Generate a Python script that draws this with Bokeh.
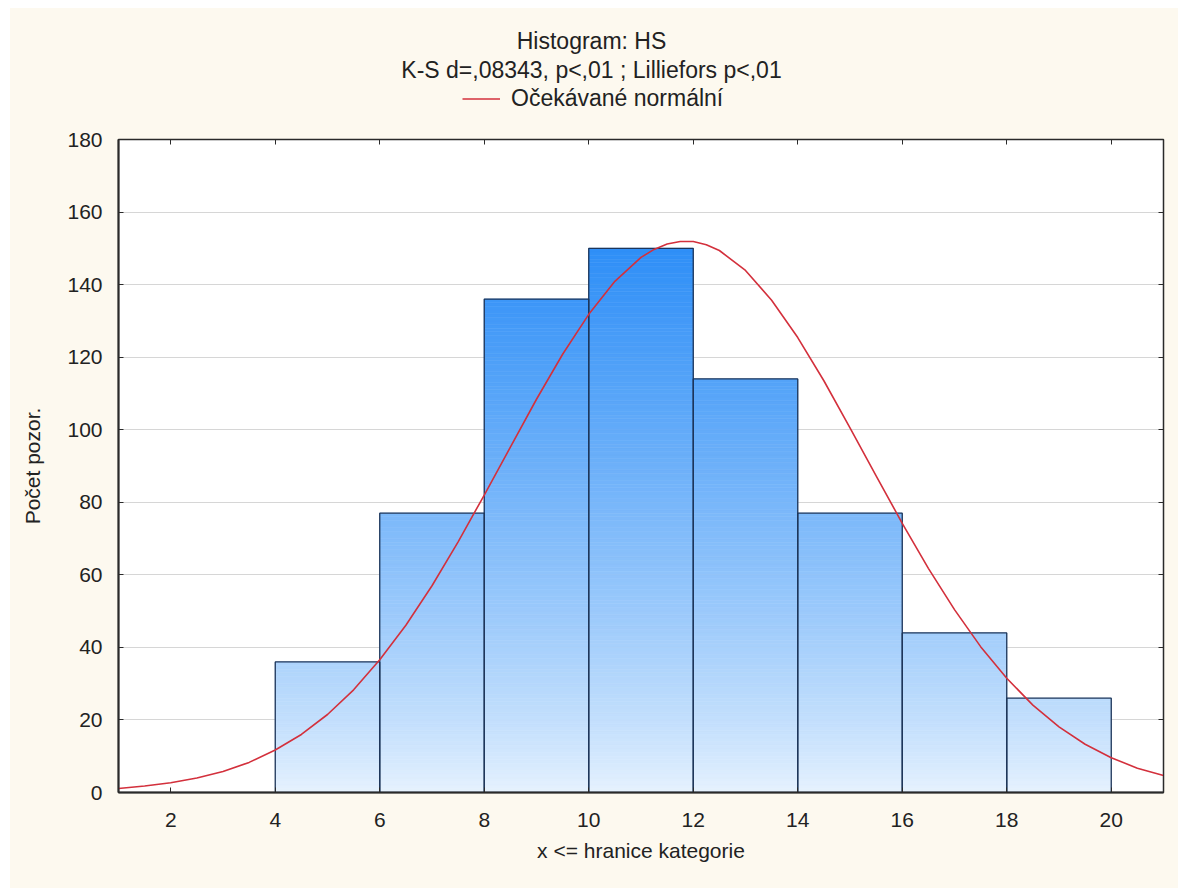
from bokeh.plotting import figure
from bokeh.models import Range1d, LinearAxis, Legend, LegendItem, FixedTicker, Spacer
from bokeh.core.properties import value
from bokeh.layouts import column, row
from bokeh.embed import file_html
from bokeh.resources import INLINE

# ---- data ----
bin_left = [4, 6, 8, 10, 12, 14, 16, 18]
bin_right = [6, 8, 10, 12, 14, 16, 18, 20]
counts = [36, 77, 136, 150, 114, 77, 44, 26]

curve_x = [1, 1.5, 2, 2.5, 3, 3.5, 4, 4.5, 5, 5.5, 6, 6.5, 7, 7.5, 8, 8.5, 9, 9.5,
           10, 10.5, 11, 11.25, 11.5, 11.75, 12, 12.25, 12.5, 13, 13.5, 14, 14.5, 15,
           15.5, 16, 16.5, 17, 17.5, 18, 18.5, 19, 19.5, 20, 20.5, 21]
curve_y = [1.1, 1.8, 2.7, 4.0, 5.8, 8.3, 11.7, 16.0, 21.5, 28.3, 36.6, 46.1, 57.0,
           69.1, 82.0, 95.2, 108.4, 120.8, 131.8, 140.9, 147.5, 149.7, 151.2, 151.9,
           151.9, 151.0, 149.4, 143.9, 135.7, 125.4, 113.5, 100.5, 87.3, 74.2, 61.8,
           50.4, 40.2, 31.5, 24.1, 18.1, 13.3, 9.6, 6.7, 4.7]

x_ticks = [2, 4, 6, 8, 10, 12, 14, 16, 18, 20]
y_ticks = [0, 20, 40, 60, 80, 100, 120, 140, 160, 180]

title_1 = "Histogram: HS"
title_2 = "K-S d=,08343, p<,01 ; Lilliefors p<,01"
legend_label = "Očekávané normální"
x_label = "x <= hranice kategorie"
y_label = "Počet pozor."

FONT = "Liberation Sans"
CREAM = "#fdf9ef"
DARK = "#2a2a2a"
RED = "#d3303c"
TXT = "#222222"

W = 1168
HEAD_H = 115
B_LEFT, B_RIGHT = 108, 15
FRAME_W = W - B_LEFT - B_RIGHT   # header frame is aligned with the main frame

# ---------------- header (titles + legend), pixel coordinates ----------------
head = figure(width=W, height=HEAD_H, output_backend="svg", toolbar_location=None,
              title=None, x_range=Range1d(0, FRAME_W), y_range=Range1d(0, HEAD_H),
              min_border_left=B_LEFT, min_border_right=B_RIGHT,
              min_border_top=0, min_border_bottom=0)
head.axis.visible = False
head.grid.visible = False
head.outline_line_color = None
head.background_fill_color = CREAM
head.border_fill_color = CREAM
head.text(x=[473, 473], y=[83, 54], text=[title_1, title_2], text_align="center",
          text_baseline="middle", text_font=value(FONT), text_font_size=value("23px"),
          text_color=TXT)
# legend key renderer (its points lie outside the visible range)
key = head.line(x=[-500, -400], y=[-500, -500], line_color=RED, line_width=1.6)
head.add_layout(Legend(items=[LegendItem(label=legend_label, renderers=[key])],
                       location=(344, 11), orientation="horizontal",
                       background_fill_alpha=0, border_line_color=None, padding=0,
                       margin=0, glyph_width=38, glyph_height=27, label_height=27,
                       label_standoff=11, label_text_font=FONT,
                       label_text_font_size="23px", label_text_color=TXT))

# ---------------- main histogram ----------------
p = figure(width=W, height=880 - HEAD_H, output_backend="svg", toolbar_location=None,
           title=None, x_range=Range1d(1, 21), y_range=Range1d(0, 180),
           min_border_left=B_LEFT, min_border_right=B_RIGHT, min_border_top=16,
           min_border_bottom=96)
p.border_fill_color = CREAM
p.background_fill_color = "white"
p.outline_line_color = DARK
p.outline_line_width = 1.5

# gradient fill of bars (colour depends on the value level)
c0 = (232, 243, 254)
c1 = (47, 143, 247)
ymax = max(counts)
sl_l, sl_r, sl_b, sl_t, sl_c = [], [], [], [], []
for l, r, h in zip(bin_left, bin_right, counts):
    for k in range(h):
        t = ((k + 0.5) / ymax) ** 0.8
        col = tuple(int(round(a + (b - a) * t)) for a, b in zip(c0, c1))
        sl_l.append(l); sl_r.append(r); sl_b.append(k); sl_t.append(k + 1)
        sl_c.append("#%02x%02x%02x" % col)
p.quad(left=sl_l, right=sl_r, bottom=sl_b, top=sl_t, fill_color=sl_c,
       line_color=sl_c, line_width=0.6)
p.quad(left=bin_left, right=bin_right, bottom=0, top=counts, fill_color=None,
       line_color="#1d3559", line_width=1.3)

p.line(curve_x, curve_y, line_color=RED, line_width=1.6)

for ax in (p.xaxis[0], p.yaxis[0]):
    ax.major_tick_in = 5
    ax.major_tick_out = 0
    ax.minor_tick_line_color = None
    ax.axis_line_color = DARK
    ax.axis_line_width = 2
    ax.major_tick_line_color = DARK
    ax.major_label_text_font = FONT
    ax.major_label_text_font_size = "21px"
    ax.major_label_text_color = TXT
    ax.axis_label_text_font = FONT
    ax.axis_label_text_font_size = "21px"
    ax.axis_label_text_font_style = "normal"
    ax.axis_label_text_color = TXT

p.xaxis[0].ticker = FixedTicker(ticks=x_ticks)
p.yaxis[0].ticker = FixedTicker(ticks=y_ticks)
p.xaxis[0].axis_label = x_label
p.yaxis[0].axis_label = y_label
p.xaxis[0].major_label_standoff = 20
p.yaxis[0].major_label_standoff = 16
p.xaxis[0].axis_label_standoff = 9
p.yaxis[0].axis_label_standoff = 20

top_ax = LinearAxis(ticker=FixedTicker(ticks=x_ticks),
                    major_label_overrides={t: "" for t in x_ticks},
                    major_label_text_font_size="1px",
                    major_tick_in=5, major_tick_out=0, minor_tick_line_color=None,
                    axis_line_color=DARK, major_tick_line_color=DARK,
                    major_label_standoff=0)
right_ax = LinearAxis(ticker=FixedTicker(ticks=y_ticks),
                      major_label_overrides={t: "" for t in y_ticks},
                      major_label_text_font_size="1px",
                      major_tick_in=5, major_tick_out=0, minor_tick_line_color=None,
                      axis_line_color=DARK, major_tick_line_color=DARK,
                      major_label_standoff=0)
p.add_layout(top_ax, "above")
p.add_layout(right_ax, "right")

p.xgrid.grid_line_color = None
p.ygrid.grid_line_color = "#d6d6d6"
p.ygrid.grid_line_width = 1
p.ygrid.ticker = FixedTicker(ticks=y_ticks)

inner = column(head, p, styles={"background-color": CREAM})
layout = column(Spacer(height=8), row(Spacer(width=10), inner))
open("out.html", "w").write(file_html(layout, INLINE))
